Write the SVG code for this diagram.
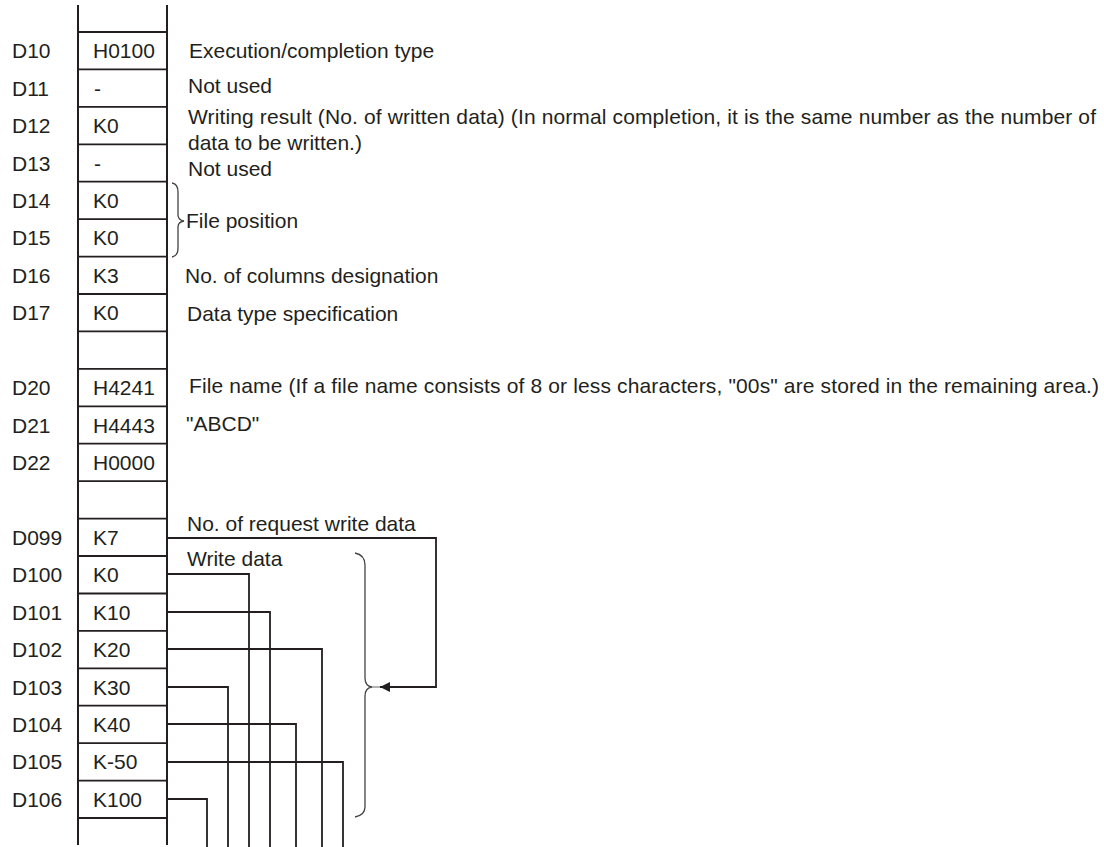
<svg xmlns="http://www.w3.org/2000/svg" width="1104" height="847" viewBox="0 0 1104 847">
<style>
text{font-family:"Liberation Sans",Arial,sans-serif;font-size:21px;fill:#231f20}
.col{stroke:#231f20;stroke-width:2;fill:none}
.row{stroke:#231f20;stroke-width:1.8;fill:none}
.con{stroke:#231f20;stroke-width:1.8;fill:none}
.brace{stroke:#444;stroke-width:1.3;fill:none}
</style>
<defs>
<marker id="arr" markerWidth="10" markerHeight="10" refX="10" refY="5" orient="auto" markerUnits="userSpaceOnUse">
<path d="M0,0 L10,5 L0,10 Z" fill="#231f20"/>
</marker>
</defs>
<rect width="1104" height="847" fill="#fff"/>
<g id="column">
<line class="col" x1="78" y1="5" x2="78" y2="845"/>
<line class="col" x1="167" y1="5" x2="167" y2="845"/>
<g class="row">
<line x1="78" y1="32" x2="167" y2="32"/>
<line x1="78" y1="69.4" x2="167" y2="69.4"/>
<line x1="78" y1="106.9" x2="167" y2="106.9"/>
<line x1="78" y1="144.3" x2="167" y2="144.3"/>
<line x1="78" y1="181.7" x2="167" y2="181.7"/>
<line x1="78" y1="219.2" x2="167" y2="219.2"/>
<line x1="78" y1="256.6" x2="167" y2="256.6"/>
<line x1="78" y1="294" x2="167" y2="294"/>
<line x1="78" y1="331.4" x2="167" y2="331.4"/>
<line x1="78" y1="368.9" x2="167" y2="368.9"/>
<line x1="78" y1="406.3" x2="167" y2="406.3"/>
<line x1="78" y1="443.7" x2="167" y2="443.7"/>
<line x1="78" y1="481.2" x2="167" y2="481.2"/>
<line x1="78" y1="518.6" x2="167" y2="518.6"/>
<line x1="78" y1="556" x2="167" y2="556"/>
<line x1="78" y1="593.5" x2="167" y2="593.5"/>
<line x1="78" y1="630.9" x2="167" y2="630.9"/>
<line x1="78" y1="668.3" x2="167" y2="668.3"/>
<line x1="78" y1="705.7" x2="167" y2="705.7"/>
<line x1="78" y1="743.2" x2="167" y2="743.2"/>
<line x1="78" y1="780.6" x2="167" y2="780.6"/>
<line x1="78" y1="818" x2="167" y2="818"/>
</g>
</g>
<g id="row-D10"><text x="12" y="58">D10</text><text x="93" y="58">H0100</text><text x="189" y="58">Execution/completion type</text></g>
<g id="row-D11"><text x="12" y="95.6">D11</text><text x="94" y="95.6">-</text><text x="188" y="93">Not used</text></g>
<g id="row-D12"><text x="12" y="133">D12</text><text x="93" y="133">K0</text><text x="188" y="124" textLength="908" lengthAdjust="spacing">Writing result (No. of written data) (In normal completion, it is the same number as the number of</text><text x="188" y="150">data to be written.)</text></g>
<g id="row-D13"><text x="12" y="170.5">D13</text><text x="94" y="170.5">-</text><text x="188" y="176">Not used</text></g>
<g id="row-D14"><text x="12" y="208">D14</text><text x="93" y="208">K0</text></g>
<g id="row-D15"><text x="12" y="245.4">D15</text><text x="93" y="245.4">K0</text></g>
<g id="file-position"><path class="brace" d="M172,183 Q178,184 178,192 L178,215 Q178,220 184,221 Q178,222 178,227 L178,248 Q178,256 172,257"/><text x="186" y="228">File position</text></g>
<g id="row-D16"><text x="12" y="282.8">D16</text><text x="93" y="282.8">K3</text><text x="185" y="283">No. of columns designation</text></g>
<g id="row-D17"><text x="12" y="320.2">D17</text><text x="93" y="320.2">K0</text><text x="187" y="320.5">Data type specification</text></g>
<g id="row-D20"><text x="12" y="395">D20</text><text x="93" y="395">H4241</text><text x="189" y="393" textLength="910" lengthAdjust="spacing">File name (If a file name consists of 8 or less characters, "00s" are stored in the remaining area.)</text></g>
<g id="row-D21"><text x="12" y="432.5">D21</text><text x="93" y="432.5">H4443</text><text x="186" y="431">"ABCD"</text></g>
<g id="row-D22"><text x="12" y="470">D22</text><text x="93" y="470">H0000</text></g>
<g id="row-D099"><text x="12" y="544.8">D099</text><text x="93" y="544.8">K7</text><text x="187" y="531">No. of request write data</text></g>
<g id="row-D100"><text x="12" y="582.2">D100</text><text x="93" y="582.2">K0</text><text x="187" y="566">Write data</text></g>
<g id="row-D101"><text x="12" y="619.7">D101</text><text x="93" y="619.7">K10</text></g>
<g id="row-D102"><text x="12" y="657">D102</text><text x="93" y="657">K20</text></g>
<g id="row-D103"><text x="12" y="694.5">D103</text><text x="93" y="694.5">K30</text></g>
<g id="row-D104"><text x="12" y="732">D104</text><text x="93" y="732">K40</text></g>
<g id="row-D105"><text x="12" y="769.4">D105</text><text x="93" y="769.4">K-50</text></g>
<g id="row-D106"><text x="12" y="806.8">D106</text><text x="93" y="806.8">K100</text></g>
<g id="write-data-brace"><path class="brace" d="M355,553 Q365,555 365,565 L365,678 Q365,686 372,687 Q365,688 365,696 L365,807 Q365,815 355,817"/></g>
<g id="connectors">
<polyline class="con" points="167,538 436,538 436,687 380,687" marker-end="url(#arr)"/>
<line x1="372" y1="687" x2="380" y2="687" stroke="#888" stroke-width="1.3"/>
<polyline class="con" points="167,574 249,574 249,847"/>
<polyline class="con" points="167,612 270,612 270,847"/>
<polyline class="con" points="167,649 322,649 322,847"/>
<polyline class="con" points="167,687 228,687 228,847"/>
<polyline class="con" points="167,724 296,724 296,847"/>
<polyline class="con" points="167,762 343,762 343,847"/>
<polyline class="con" points="167,799 207,799 207,847"/>
</g>
</svg>
